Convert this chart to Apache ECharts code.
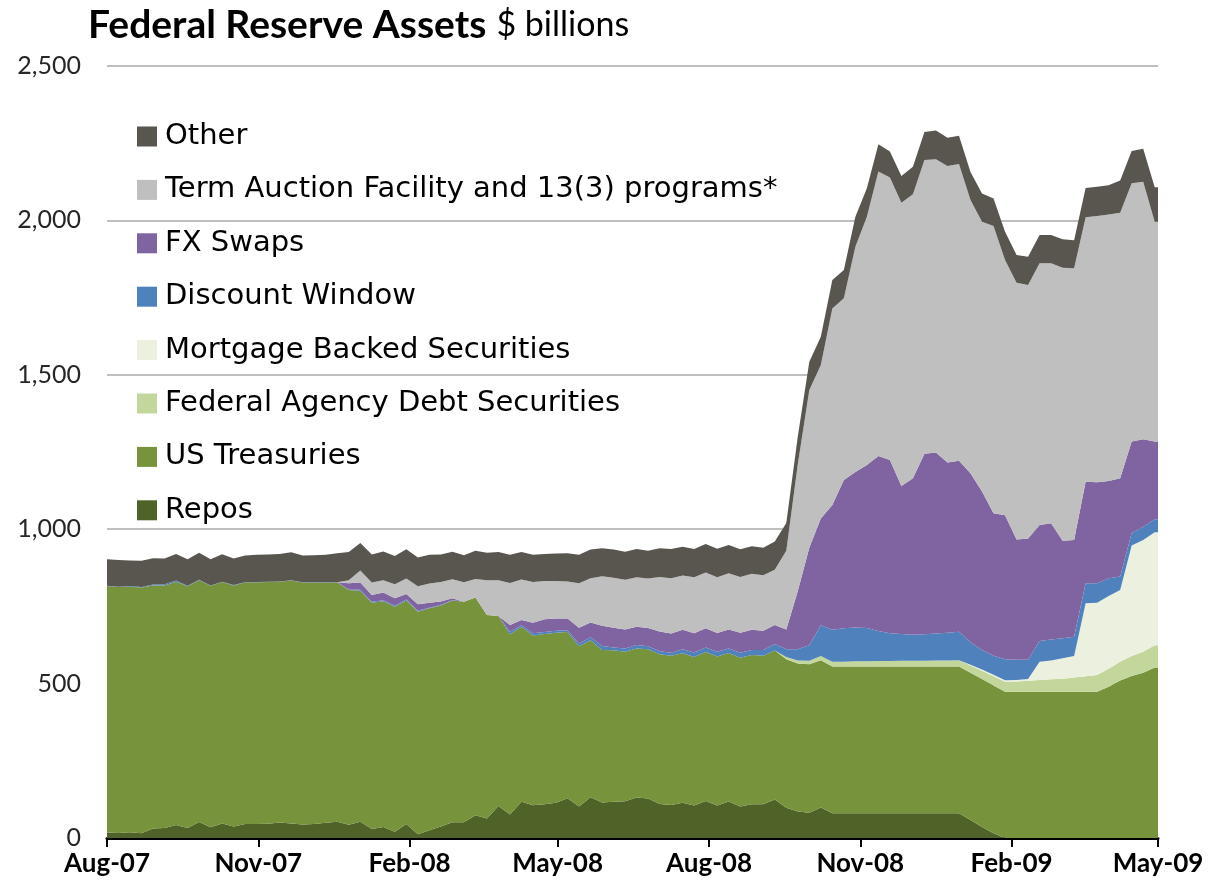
<!DOCTYPE html>
<html>
<head>
<meta charset="utf-8">
<script src="https://cdn.jsdelivr.net/npm/echarts@6/dist/echarts.min.js"></script>
<style>
html,body{margin:0;padding:0;background:#fff;}
#chart{width:1219px;height:889px;}
</style>
</head>
<body>
<div id="chart"></div>
<script>
// Weekly observations starting Wed 1 Aug 2007 (one value per week); last entry is the clipped flat continuation.
const startYear = 2007, startMonth = 7, startDay = 1;

const seriesNames = ['Repos','US Treasuries','Federal Agency Debt Securities','Mortgage Backed Securities','Discount Window','FX Swaps','Term Auction Facility and 13(3) programs*','Other'];

const repos = [18,16,19,15,31,32,42,32,52,35, 47,37,45,45,46,50,47,44,45,49, 53,43,53,29,36,20,45,12,25,37, 51,51,74,63,104,76,117,106,109,114, 129,102,132,115,117,119,131,128,110,107, 114,105,120,105,118,102,109,109,125,98, 86,82,99,80,80,80,80,80,80,80, 80,80,80,80,80,58,36,15,0,0, 0,0,0,0,0,0,0,0,0,0, 0,0,0];

const treasuries = [798,797,795,796,787,786,788,783,783,782, 782,781,782,783,783,780,787,783,782,778, 774,760,748,733,731,729,724,721,719,716, 718,714,705,659,615,584,567,550,552,551, 538,519,508,494,491,484,483,483,485,483, 484,481,482,483,481,482,484,481,482,481, 479,481,477,475,475,475,475,475,475,475, 475,475,475,475,475,477,479,479,474,474, 474,474,474,474,474,474,474,490,510,525, 535,552,552];

const agency = [0,0,0,0,0,0,0,0,0,0, 0,0,0,0,0,0,0,0,0,0, 0,0,0,0,0,0,0,0,0,0, 0,0,0,0,0,0,0,0,0,0, 0,0,0,0,0,0,0,0,0,0, 0,0,0,0,0,0,0,0,0,7, 10,11,13,16,16,17,17,18,18,19, 19,19,20,20,21,24,27,30,32,33, 35,38,40,42,46,50,54,58,61,64, 68,72,72];

const mbs = [0,0,0,0,0,0,0,0,0,0, 0,0,0,0,0,0,0,0,0,0, 0,0,0,0,0,0,0,0,0,0, 0,0,0,0,0,0,0,0,0,0, 0,0,0,0,0,0,0,0,0,0, 0,0,0,0,0,0,0,0,0,0, 0,0,0,0,0,0,0,0,0,0, 0,0,0,0,0,2,4,5,5,5, 6,59,61,66,69,236,234,236,232,358, 362,366,366];

const discountWindow = [1,1,2,2,3,4,4,2,1,1, 1,1,1,1,1,1,1,1,1,1, 1,2,3,3,3,3,3,3,2,2, 2,0,0,0,0,8,5,7,6,6, 5,9,10,13,9,11,11,10,10,10, 13,15,15,15,15,16,16,19,21,25, 36,50,100,103,108,110,108,97,90,87, 84,86,87,90,92,73,63,61,68,65, 62,67,68,65,63,65,63,57,44,41, 43,42,42];

const fxSwaps = [0,0,0,0,0,0,0,0,0,0, 0,0,0,0,0,0,0,0,0,0, 0,20,23,22,25,24,18,21,16,11, 5,0,0,0,0,22,17,34,41,40, 39,51,48,65,64,61,59,59,64,62, 63,62,62,61,61,65,65,62,62,64, 189,316,346,404,480,503,528,567,561,479, 507,584,586,551,554,547,513,462,466,390, 393,376,376,316,313,329,327,315,318,296, 283,252,252];

const taf = [0,0,0,0,0,0,0,0,0,0, 0,0,0,0,0,0,0,0,0,0, 0,10,39,40,40,46,50,58,62,63, 62,63,60,113,116,136,131,132,124,121, 120,144,143,161,162,161,160,160,176,179, 176,181,181,180,182,180,182,180,179,255, 410,511,497,637,589,730,804,921,915,917, 920,952,950,960,961,885,874,930,827,831, 821,847,842,884,880,856,862,863,860,836, 834,712,712];

const other = [86,86,83,85,85,83,86,86,88,85, 89,86,87,88,88,89,90,87,88,89, 94,91,89,91,93,91,95,93,93,89, 89,88,91,89,91,91,89,88,88,89, 91,92,93,90,91,91,92,90,93,95, 93,92,92,93,92,90,89,89,91,90, 90,91,91,92,91,97,92,89,84,87, 89,90,93,92,91,91,91,89,91,90, 91,92,92,92,91,95,95,95,104,105, 107,111,111];

const tickLabels = ['Aug-07','Nov-07','Feb-08','May-08','Aug-08','Nov-08','Feb-09','May-09'];
const tickDates = [[2007,7,1],[2007,10,1],[2008,1,1],[2008,4,1],[2008,7,1],[2008,10,1],[2009,1,1],[2009,4,1]];
const yTicks = [0,500,1000,1500,2000,2500];

const colors = ['#4F6228','#77933C','#C3D69B','#EBF1DE','#4F81BD','#8064A2','#BFBFBF','#59554F'];

const values = [repos, treasuries, agency, mbs, discountWindow, fxSwaps, taf, other];
const DAY = 86400000;
const t0 = Date.UTC(startYear, startMonth, startDay);
const dayOf = (y, m, d) => Math.round((Date.UTC(y, m, d) - t0) / DAY);
const xDays = repos.map((_, i) => dayOf(startYear, startMonth, startDay + 7 * i));
const tickDays = tickDates.map(d => dayOf(d[0], d[1], d[2]));

const series = seriesNames.map((name, k) => ({
  name: name,
  type: 'line',
  stack: 'total',
  symbol: 'none',
  showSymbol: false,
  clip: true,
  dimensions: ['amount', 'day'],
  encode: { x: 'day', y: 'amount' },
  lineStyle: { width: 0 },
  itemStyle: { color: colors[k] },
  areaStyle: { color: colors[k], opacity: 1 },
  emphasis: { disabled: true },
  data: values[k].map((v, i) => [v, xDays[i]])
}));

const chart = echarts.init(document.getElementById('chart'), null, { renderer: 'canvas' });
chart.setOption({
  animation: false,
  backgroundColor: '#ffffff',
  title: {
    text: '{b|Federal Reserve Assets} {n|$ billions}',
    left: 88,
    top: 6,
    padding: 0,
    textStyle: {
      rich: {
        b: { fontFamily: 'Lato', fontWeight: 'bold', fontSize: 39, color: '#000000' },
        n: { fontFamily: 'Lato', fontWeight: 'normal', fontSize: 34, color: '#000000', padding: [0, 0, 0, 5] }
      }
    }
  },
  legend: {
    orient: 'vertical',
    left: 137,
    top: 122,
    padding: 0,
    itemWidth: 20,
    itemHeight: 20,
    itemGap: 24.4,
    icon: 'rect',
    selectedMode: false,
    data: seriesNames.slice().reverse(),
    textStyle: { fontFamily: 'DejaVu Sans', fontSize: 29, lineHeight: 28, color: '#000000', padding: [0, 0, 0, 3] }
  },
  grid: { left: 107, right: 61, top: 66, bottom: 51, containLabel: false },
  xAxis: {
    type: 'value',
    min: tickDays[0],
    max: tickDays[tickDays.length - 1],
    axisLine: { show: true, onZero: false, lineStyle: { color: '#000000', width: 3 } },
    axisTick: { show: true, customValues: tickDays, length: 9, lineStyle: { color: '#000000', width: 2 } },
    axisLabel: {
      customValues: tickDays,
      showMinLabel: true,
      showMaxLabel: true,
      margin: 13,
      fontFamily: 'Lato',
      fontWeight: 'bold',
      fontSize: 26,
      color: '#000000',
      formatter: function (val) {
        let best = 0, bd = Infinity;
        tickDays.forEach((t, i) => { const d = Math.abs(t - val); if (d < bd) { bd = d; best = i; } });
        return tickLabels[best];
      }
    },
    splitLine: { show: false }
  },
  yAxis: {
    type: 'value',
    min: yTicks[0],
    max: yTicks[yTicks.length - 1],
    interval: 500,
    axisLine: { show: false },
    axisTick: { show: false },
    axisLabel: {
      margin: 26,
      fontFamily: 'Lato',
      fontSize: 25,
      color: '#262626',
      formatter: v => v.toLocaleString('en-US')
    },
    splitLine: { show: true, lineStyle: { color: '#BFBFBF', width: 2 } }
  },
  series: series
});
</script>
</body>
</html>
